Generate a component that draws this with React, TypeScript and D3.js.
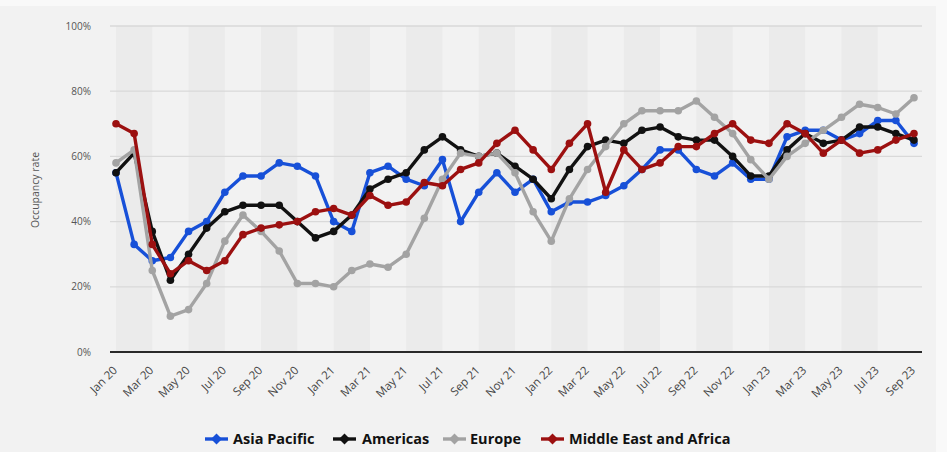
import React from "react";
import * as d3 from "d3";

const months = [
  "Jan 20","Feb 20","Mar 20","Apr 20","May 20","Jun 20","Jul 20","Aug 20","Sep 20","Oct 20","Nov 20","Dec 20",
  "Jan 21","Feb 21","Mar 21","Apr 21","May 21","Jun 21","Jul 21","Aug 21","Sep 21","Oct 21","Nov 21","Dec 21",
  "Jan 22","Feb 22","Mar 22","Apr 22","May 22","Jun 22","Jul 22","Aug 22","Sep 22","Oct 22","Nov 22","Dec 22",
  "Jan 23","Feb 23","Mar 23","Apr 23","May 23","Jun 23","Jul 23","Aug 23","Sep 23",
];

const asiaPacific = [55,33,28,29,37,40,49,54,54,58,57,54,40,37,55,57,53,51,59,40,49,55,49,53,43,46,46,48,51,56,62,62,56,54,58,53,53,66,68,68,65,67,71,71,64];
const americas = [55,61,37,22,30,38,43,45,45,45,40,35,37,42,50,53,55,62,66,62,60,61,57,53,47,56,63,65,64,68,69,66,65,65,60,54,54,62,67,64,65,69,69,67,65];
const europe = [58,62,25,11,13,21,34,42,37,31,21,21,20,25,27,26,30,41,53,61,60,61,55,43,34,47,56,63,70,74,74,74,77,72,67,59,53,60,64,68,72,76,75,73,78];
const meAfrica = [70,67,33,24,28,25,28,36,38,39,40,43,44,42,48,45,46,52,51,56,58,64,68,62,56,64,70,49,62,56,58,63,63,67,70,65,64,70,67,61,65,61,62,65,67];

const yTicks = [0, 20, 40, 60, 80, 100];

const seriesNames = ["Asia Pacific", "Americas", "Europe", "Middle East and Africa"];
const seriesValues = [asiaPacific, americas, europe, meAfrica];
const seriesColors = ["#1750d8", "#111111", "#a3a3a3", "#9c1010"];

const W = 947;
const H = 452;

export default function App() {
  const x = d3.scaleLinear().domain([0, months.length - 1]).range([116, 914]);
  const y = d3.scaleLinear().domain([0, 100]).range([352, 26]);
  const line = d3
    .line<number>()
    .x((_, i) => x(i))
    .y((d) => y(d));

  const bands: number[] = [];
  for (let i = 0; i + 2 <= months.length - 1; i += 4) bands.push(i);

  const font = "'Open Sans', 'Liberation Sans', Arial, sans-serif";

  const legendItems = [
    { x: 205, textX: 233 },
    { x: 333, textX: 362 },
    { x: 443, textX: 470 },
    { x: 541, textX: 569 },
  ];

  return (
    <svg
      width={W}
      height={H}
      style={{ display: "block", position: "absolute", left: 0, top: 0, fontFamily: font }}
    >
      <rect x={0} y={0} width={W} height={H} fill="#f9f9f9" />
      <rect x={0} y={6} width={936} height={H - 6} fill="#f2f2f2" />
      {bands.map((b) => (
        <rect
          key={b}
          x={x(b)}
          y={y(100)}
          width={x(b + 2) - x(b)}
          height={y(0) - y(100)}
          fill="#ebebeb"
        />
      ))}
      {yTicks.map((t) =>
        t === 0 ? null : (
          <line key={t} x1={110} x2={922} y1={y(t)} y2={y(t)} stroke="#d9d9d9" strokeWidth={1.3} />
        )
      )}
      <line x1={110} x2={922} y1={y(0)} y2={y(0)} stroke="#2a2a2a" strokeWidth={1.8} />
      {yTicks.map((t) => (
        <text
          key={t}
          x={91}
          y={y(t)}
          dy="0.35em"
          textAnchor="end"
          fontSize={10}
          fill="#555"
        >
          {t}%
        </text>
      ))}
      <text
        transform={`translate(39, 190) rotate(-90)`}
        textAnchor="middle"
        fontSize={10.5}
        fill="#555"
      >
        Occupancy rate
      </text>
      {months.map((m, i) =>
        i % 2 === 0 ? (
          <text
            key={m}
            transform={`translate(${x(i) + 2}, 371) rotate(-45)`}
            textAnchor="end"
            fontSize={11.5}
            fill="#444"
          >
            {m}
          </text>
        ) : null
      )}
      {seriesValues.map((vals, si) => (
        <g key={seriesNames[si]}>
          <path d={line(vals) || ""} fill="none" stroke={seriesColors[si]} strokeWidth={3.4} strokeLinejoin="round" />
          {vals.map((v, i) => (
            <circle key={i} cx={x(i)} cy={y(v)} r={3.8} fill={seriesColors[si]} />
          ))}
        </g>
      ))}
      {seriesNames.map((n, si) => (
        <g key={n}>
          <line
            x1={legendItems[si].x}
            x2={legendItems[si].x + 23}
            y1={439}
            y2={439}
            stroke={seriesColors[si]}
            strokeWidth={3.4}
          />
          <path
            d={`M${legendItems[si].x + 11.5},${433.5} l5.5,5.5 l-5.5,5.5 l-5.5,-5.5 z`}
            fill={seriesColors[si]}
          />
          <text
            x={legendItems[si].textX}
            y={439}
            dy="0.35em"
            fontSize={14.5}
            fontWeight={700}
            fill="#111"
          >
            {n}
          </text>
        </g>
      ))}
    </svg>
  );
}
